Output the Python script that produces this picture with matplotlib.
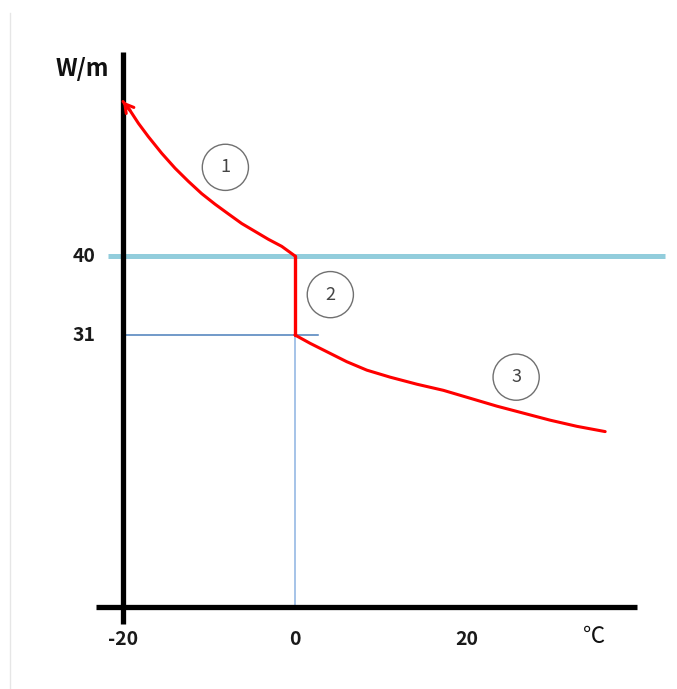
import matplotlib.pyplot as plt
from matplotlib.lines import Line2D

# ---- data ----
# branch 1: below 0 degC, rising towards -20 degC (arrow at the end)
seg1_x = [0, -1.55, -3.1, -4.65, -6.2, -7.76, -9.3, -10.85, -12.4,
          -13.95, -15.5, -17.06, -18.2, -19.2, -20.0]
seg1_y = [40, 41.1, 41.9, 42.8, 43.7, 44.8, 45.9, 47.1, 48.5,
          50.0, 51.7, 53.6, 55.1, 56.6, 57.6]
# branch 2: vertical drop at 0 degC
seg2_x = [0, 0]
seg2_y = [40, 31]
# branch 3: above 0 degC
seg3_x = [0, 1.74, 3.69, 6.01, 8.34, 11.05, 14.15, 17.24, 20.35,
          23.45, 26.55, 29.65, 32.76, 36.05]
seg3_y = [31.0, 30.06, 29.1, 27.96, 27.0, 26.2, 25.4, 24.7, 23.8,
          22.9, 22.1, 21.3, 20.6, 20.0]

y_ticks = [40, 31]
x_ticks = [-20, 0, 20]
labels = ["1", "2", "3"]
label_x = [-8.1, 4.1, 25.7]
label_y = [50.1, 35.6, 26.2]

FONT = ['Noto Sans CJK KR', 'DejaVu Sans']
plt.rcParams['font.family'] = FONT

fig = plt.figure(figsize=(6.77, 6.89), dpi=100)
ax = fig.add_axes([0, 0, 1, 1])
ax.set_xlim(-34.3, 44.4)
ax.set_ylim(-9.32, 69.16)
ax.axis('off')

# faint frame line on the left edge
fig.add_artist(Line2D([10 / 677, 10 / 677], [0, 1 - 13 / 689],
                      color='#e6e6e6', lw=1, transform=fig.transFigure))

# reference lines
ax.plot([-21.7, 43.0], [40, 40], color='#92cddc', lw=3.6, solid_capstyle='butt')
ax.plot([-20, 2.7], [31, 31], color='#4a7ebb', lw=1.1)
ax.plot([0, 0], [0, 31], color='#8db3e2', lw=1.1)

# axes
ax.plot([-23.1, 39.7], [0, 0], color='black', lw=3.8, solid_capstyle='butt')
ax.plot([-20, -20], [-1.9, 63.2], color='black', lw=3.8, solid_capstyle='butt')

# curve
red = '#ff0000'
ax.plot(seg1_x, seg1_y, color=red, lw=2.2, solid_capstyle='round')
ax.annotate('', xy=(seg1_x[-1], seg1_y[-1]), xytext=(seg1_x[-2], seg1_y[-2]),
            arrowprops=dict(arrowstyle='->,head_length=0.6,head_width=0.35',
                            color=red, lw=2.2, shrinkA=0, shrinkB=0))
ax.plot(seg2_x, seg2_y, color=red, lw=2.4, solid_capstyle='round')
ax.plot(seg3_x, seg3_y, color=red, lw=2.2, solid_capstyle='round')

# circled region numbers
for t, x, y in zip(labels, label_x, label_y):
    ax.text(x, y, t, ha='center', va='center', fontsize=13, color='#444444',
            bbox=dict(boxstyle='circle,pad=0.78', fc='white', ec='#707070', lw=1))

# tick labels and units
for v in y_ticks:
    ax.text(-23.2, v, str(v), ha='right', va='center', fontsize=14,
            fontweight='bold', color='#1a1a1a')
for v in x_ticks:
    ax.text(v, -3.7, str(v), ha='center', va='center', fontsize=14,
            fontweight='bold', color='#1a1a1a')
ax.text(-21.6, 61.3, 'W/m', ha='right', va='center', fontsize=17,
        fontweight='bold', color='#111111')
ax.text(34.8, -3.3, '℃', ha='center', va='center', fontsize=16, color='#111111')

fig.savefig('out.png', dpi=100)
